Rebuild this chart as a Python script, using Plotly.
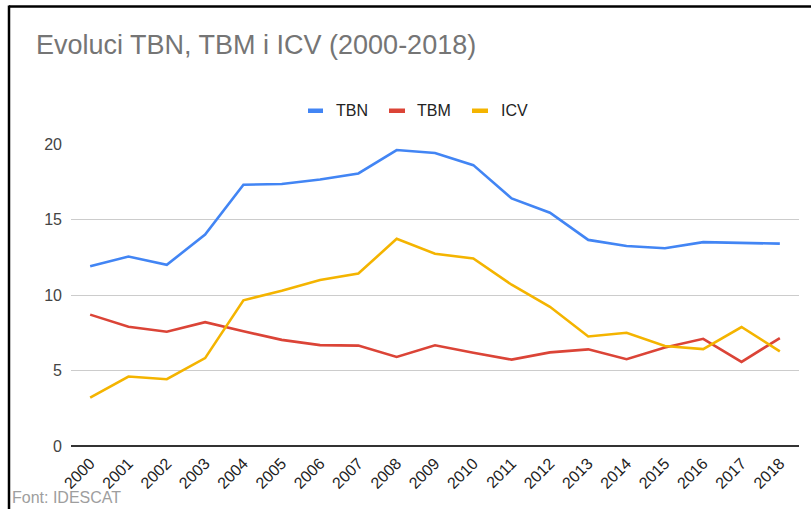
import plotly.graph_objects as go

years = [str(y) for y in range(2000, 2019)]
tbn = [11.9, 12.55, 12.0, 14.0, 17.3, 17.35, 17.65, 18.05, 19.6, 19.4, 18.6, 16.4, 15.45, 13.65, 13.25, 13.1, 13.5, 13.45, 13.4]
tbm = [8.7, 7.9, 7.57, 8.2, 7.6, 7.03, 6.68, 6.65, 5.9, 6.67, 6.18, 5.72, 6.2, 6.4, 5.75, 6.52, 7.1, 5.57, 7.15]
icv = [3.2, 4.6, 4.42, 5.82, 9.65, 10.28, 11.0, 11.42, 13.72, 12.73, 12.42, 10.68, 9.22, 7.25, 7.5, 6.62, 6.42, 7.88, 6.27]
series_names = ["TBN", "TBM", "ICV"]
series_colors = ["#4285F4", "#DB4437", "#F4B400"]
y_ticks = [0, 5, 10, 15, 20]
title_text = "Evoluci TBN, TBM i ICV (2000-2018)"
source_text = "Font: IDESCAT"

W, H = 811, 509
ML, MR, MT, MB = 71, 12, 144, 63
PW, PH = W - ML - MR, H - MT - MB
FONT = "Arial, Liberation Sans, sans-serif"


def px(x):
    return (x - ML) / PW


def py(y):
    return (H - MB - y) / PH


fig = go.Figure()
for name, vals, col in zip(series_names, [tbn, tbm, icv], series_colors):
    fig.add_trace(go.Scatter(x=years, y=vals, mode="lines", name=name,
                             line=dict(color=col, width=2.6), showlegend=False))

shapes = []
annotations = []
# manual legend
leg = [(308, 323, 335), (389, 405, 416), (472, 488, 500)]
for (s0, s1, tx), name, col in zip(leg, series_names, series_colors):
    shapes.append(dict(type="rect", xref="paper", yref="paper", x0=px(s0), x1=px(s1),
                       y0=py(113), y1=py(108.5), fillcolor=col, line=dict(width=0)))
    annotations.append(dict(text=name, xref="paper", yref="paper", x=px(tx - 1), y=py(110.5),
                            xanchor="left", yanchor="middle", showarrow=False,
                            font=dict(family=FONT, size=16, color="#222222")))

# frame
shapes.append(dict(type="line", xref="paper", yref="paper", x0=px(9), x1=px(W + 5),
                   y0=py(6.5), y1=py(6.5), line=dict(color="black", width=2.5)))
shapes.append(dict(type="line", xref="paper", yref="paper", x0=px(9), x1=px(9),
                   y0=py(5.5), y1=py(H + 5), line=dict(color="black", width=2.5)))

annotations.append(dict(text=source_text, xref="paper", yref="paper", x=px(10), y=py(497),
                        xanchor="left", yanchor="middle", showarrow=False,
                        font=dict(family=FONT, size=16, color="#9e9e9e")))

fig.update_layout(
    width=W, height=H,
    margin=dict(l=ML, r=MR, t=MT, b=MB, pad=0),
    paper_bgcolor="white", plot_bgcolor="white",
    title=dict(text=title_text, x=36 / W, xanchor="left", y=1 - 45 / H, yanchor="middle",
               font=dict(family=FONT, size=27, color="#757575")),
    font=dict(family=FONT, size=16, color="#444444"),
    shapes=shapes, annotations=annotations,
    showlegend=False,
)
fig.update_xaxes(type="category", range=[-0.5, len(years) - 0.5], tickangle=-45,
                 showgrid=False, showline=False,
                 ticks="", tickfont=dict(size=16, color="#222222"),
                 ticklabelstandoff=4)
fig.update_yaxes(range=[0, 20], tickvals=y_ticks, showgrid=True, gridcolor="#cccccc",
                 gridwidth=1, zeroline=True, zerolinecolor="#333333", zerolinewidth=1.5,
                 showline=False, ticks="", tickfont=dict(size=16, color="#444444"),
                 ticklabelstandoff=8)

fig.write_html("out.html", config={"displayModeBar": False},
               post_script="document.body.style.margin='0';document.body.style.overflow='hidden';")
